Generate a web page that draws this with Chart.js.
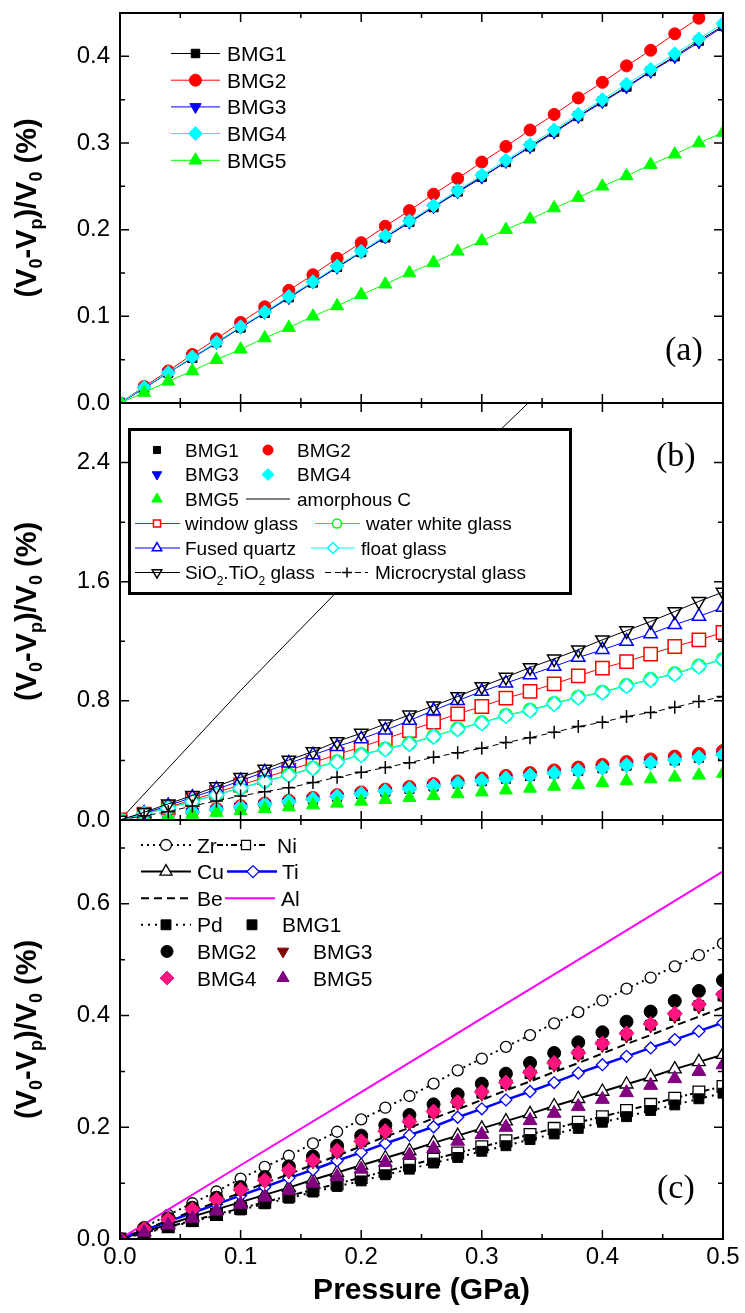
<!DOCTYPE html>
<html><head><meta charset="utf-8">
<script src="https://cdn.jsdelivr.net/npm/chart.js@4/dist/chart.umd.min.js"></script>
<style>
html,body{margin:0;padding:0;background:#fff;width:745px;height:1313px;overflow:hidden}
canvas{position:absolute;left:0;top:0}
</style></head><body>
<canvas id="ca" width="745" height="1313"></canvas>
<canvas id="cb" width="745" height="1313"></canvas>
<canvas id="cc" width="745" height="1313"></canvas>
<script>
// ---------------- DATA ----------------
const pressure = [0, 0.02, 0.04, 0.06, 0.08, 0.10, 0.12, 0.14, 0.16, 0.18, 0.20, 0.22, 0.24, 0.26, 0.28, 0.30, 0.32, 0.34, 0.36, 0.38, 0.40, 0.42, 0.44, 0.46, 0.48, 0.50];
const linePressure = [0, 0.1, 0.2, 0.3, 0.4, 0.5];

const bmg1 = [0, 0.017, 0.035, 0.052, 0.070, 0.087, 0.104, 0.122, 0.139, 0.157, 0.174, 0.191, 0.209, 0.226, 0.244, 0.261, 0.278, 0.296, 0.313, 0.331, 0.348, 0.365, 0.383, 0.400, 0.418, 0.435];
const bmg2 = [0, 0.019, 0.037, 0.056, 0.074, 0.093, 0.111, 0.130, 0.148, 0.167, 0.185, 0.204, 0.222, 0.241, 0.259, 0.278, 0.296, 0.315, 0.333, 0.352, 0.370, 0.389, 0.407, 0.426, 0.444, 0.463];
const bmg3 = [0, 0.017, 0.035, 0.052, 0.069, 0.087, 0.104, 0.121, 0.139, 0.156, 0.174, 0.191, 0.208, 0.226, 0.243, 0.260, 0.278, 0.295, 0.312, 0.330, 0.347, 0.364, 0.382, 0.399, 0.416, 0.434];
const bmg4 = [0, 0.018, 0.035, 0.053, 0.070, 0.088, 0.105, 0.123, 0.140, 0.158, 0.175, 0.193, 0.210, 0.228, 0.245, 0.263, 0.280, 0.298, 0.315, 0.333, 0.350, 0.368, 0.385, 0.403, 0.420, 0.438];
const bmg5 = [0, 0.012, 0.025, 0.037, 0.050, 0.062, 0.075, 0.087, 0.100, 0.112, 0.125, 0.137, 0.150, 0.162, 0.175, 0.187, 0.200, 0.212, 0.225, 0.237, 0.250, 0.262, 0.275, 0.287, 0.300, 0.312];

const amorphousC = [0, 0.87, 1.70, 2.50, 3.28, 4.05];
const windowGlass = [0, 0.040, 0.085, 0.135, 0.185, 0.235, 0.285, 0.335, 0.385, 0.440, 0.490, 0.545, 0.600, 0.657, 0.713, 0.762, 0.818, 0.863, 0.914, 0.968, 1.020, 1.064, 1.114, 1.165, 1.210, 1.259];
const waterWhiteGlass = [0, 0.041, 0.081, 0.125, 0.170, 0.216, 0.261, 0.304, 0.350, 0.392, 0.440, 0.479, 0.515, 0.563, 0.613, 0.654, 0.704, 0.739, 0.784, 0.826, 0.860, 0.904, 0.945, 0.983, 1.035, 1.080];
const fusedQuartz = [0, 0.045, 0.096, 0.152, 0.206, 0.264, 0.322, 0.381, 0.437, 0.493, 0.545, 0.603, 0.668, 0.735, 0.802, 0.863, 0.919, 0.975, 1.031, 1.091, 1.143, 1.199, 1.250, 1.311, 1.367, 1.427];
const floatGlass = [0, 0.040, 0.079, 0.123, 0.168, 0.213, 0.258, 0.300, 0.347, 0.388, 0.437, 0.475, 0.511, 0.560, 0.610, 0.650, 0.700, 0.735, 0.780, 0.822, 0.856, 0.900, 0.941, 0.979, 1.031, 1.076];
const sio2tio2Glass = [0, 0.052, 0.108, 0.165, 0.224, 0.287, 0.341, 0.403, 0.459, 0.527, 0.583, 0.645, 0.706, 0.766, 0.829, 0.896, 0.959, 1.024, 1.082, 1.143, 1.210, 1.271, 1.333, 1.400, 1.468, 1.530];
const microcrystalGlass = [0, 0.028, 0.056, 0.094, 0.128, 0.161, 0.190, 0.217, 0.251, 0.287, 0.320, 0.352, 0.385, 0.421, 0.452, 0.482, 0.520, 0.553, 0.589, 0.627, 0.657, 0.695, 0.722, 0.757, 0.795, 0.829];

const zr = [0, 0.021, 0.043, 0.064, 0.085, 0.108, 0.129, 0.149, 0.171, 0.192, 0.214, 0.235, 0.256, 0.278, 0.302, 0.323, 0.344, 0.365, 0.386, 0.406, 0.427, 0.448, 0.468, 0.488, 0.508, 0.529];
const ni = [0, 0.011, 0.022, 0.033, 0.044, 0.055, 0.066, 0.077, 0.088, 0.099, 0.110, 0.121, 0.132, 0.143, 0.154, 0.165, 0.176, 0.187, 0.198, 0.209, 0.219, 0.230, 0.241, 0.252, 0.263, 0.273];
const cu = [0, 0.013, 0.026, 0.040, 0.053, 0.066, 0.079, 0.092, 0.106, 0.119, 0.132, 0.145, 0.158, 0.172, 0.185, 0.198, 0.211, 0.224, 0.238, 0.251, 0.264, 0.277, 0.290, 0.304, 0.317, 0.330];
const ti = [0, 0.016, 0.031, 0.047, 0.062, 0.078, 0.093, 0.109, 0.124, 0.140, 0.155, 0.171, 0.186, 0.201, 0.218, 0.233, 0.249, 0.264, 0.280, 0.297, 0.312, 0.327, 0.342, 0.357, 0.372, 0.387];
const be = [0, 0.017, 0.033, 0.050, 0.066, 0.083, 0.100, 0.116, 0.133, 0.149, 0.166, 0.183, 0.199, 0.216, 0.232, 0.249, 0.266, 0.282, 0.299, 0.315, 0.332, 0.349, 0.365, 0.382, 0.398, 0.415];
const al = [0, 0.132, 0.263, 0.395, 0.526, 0.658];
const pd = [0, 0.010, 0.021, 0.031, 0.042, 0.052, 0.063, 0.073, 0.084, 0.094, 0.104, 0.115, 0.125, 0.136, 0.146, 0.157, 0.167, 0.178, 0.188, 0.198, 0.209, 0.219, 0.230, 0.240, 0.251, 0.261];

const xTicks = [0, 0.1, 0.2, 0.3, 0.4, 0.5];
const yTicksA = [0, 0.1, 0.2, 0.3, 0.4];
const yTicksB = [0, 0.8, 1.6, 2.4];
const yTicksC = [0, 0.2, 0.4, 0.6];

// ---------------- HELPERS ----------------
const SANS = "'Liberation Sans', Arial, sans-serif";
const SERIF = "'Liberation Serif', 'Times New Roman', serif";
const pts = (xs, ys) => xs.map((x, i) => ({x: x, y: ys[i]}));

function drawMarker(ctx, style, x, y, r, rot, fill, stroke, lw) {
  if (!style || r <= 0) return;
  ctx.save();
  ctx.beginPath();
  let rad = (rot || 0) * Math.PI / 180;
  if (style === 'circle') {
    ctx.arc(x, y, r, 0, Math.PI * 2);
  } else if (style === 'rect') {
    const s = Math.SQRT1_2 * r;
    ctx.rect(x - s, y - s, 2 * s, 2 * s);
  } else if (style === 'rectRot') {
    ctx.moveTo(x, y - r); ctx.lineTo(x + r, y); ctx.lineTo(x, y + r); ctx.lineTo(x - r, y); ctx.closePath();
  } else if (style === 'triangle') {
    for (let k = 0; k < 3; k++) {
      const px = x + Math.sin(rad) * r, py = y - Math.cos(rad) * r;
      if (k === 0) ctx.moveTo(px, py); else ctx.lineTo(px, py);
      rad += 2 * Math.PI / 3;
    }
    ctx.closePath();
  } else if (style === 'cross') {
    ctx.moveTo(x, y - r); ctx.lineTo(x, y + r); ctx.moveTo(x - r, y); ctx.lineTo(x + r, y);
  }
  if (style !== 'cross' && fill && fill !== 'transparent') { ctx.fillStyle = fill; ctx.fill(); }
  ctx.lineWidth = lw; ctx.strokeStyle = stroke; ctx.stroke();
  ctx.restore();
}

function drawRich(ctx, parts, x, y, size, subSize, weight, family, subDy) {
  let cx = x;
  for (const p of parts) {
    ctx.font = weight + ' ' + (p.sub ? subSize : size) + 'px ' + family;
    ctx.fillText(p.t, cx, y + (p.sub ? subDy : 0));
    cx += ctx.measureText(p.t).width;
  }
  return cx - x;
}
function richWidth(ctx, parts, size, subSize, weight, family) {
  let w = 0;
  for (const p of parts) {
    ctx.font = weight + ' ' + (p.sub ? subSize : size) + 'px ' + family;
    w += ctx.measureText(p.t).width;
  }
  return w;
}

const yTitleParts = [{t: '(V'}, {t: '0', sub: true}, {t: '-V'}, {t: 'p', sub: true}, {t: ')/V'}, {t: '0', sub: true}, {t: ' (%)'}];

// frame, inward ticks on all sides, y title, panel tag
const framePlugin = {
  id: 'frame',
  afterDatasetsDraw(chart, args, o) {
    const {ctx, chartArea: {left, right, top, bottom}, scales: {x, y}} = chart;
    ctx.save();
    ctx.strokeStyle = '#000';
    ctx.lineWidth = 1.5;
    ctx.beginPath();
    const nx = Math.round((x.max - x.min) / o.xMinor);
    for (let i = 0; i <= nx; i++) {
      const px = x.getPixelForValue(x.min + i * o.xMinor);
      const len = (i % 2 === 0) ? 9 : 5;
      ctx.moveTo(px, bottom); ctx.lineTo(px, bottom - len);
      ctx.moveTo(px, top); ctx.lineTo(px, top + len);
    }
    const ny = Math.floor((y.max - y.min) / o.yMinor + 1e-6);
    for (let i = 0; i <= ny; i++) {
      const py = y.getPixelForValue(y.min + i * o.yMinor);
      const len = (i % 2 === 0) ? 9 : 5;
      ctx.moveTo(left, py); ctx.lineTo(left + len, py);
      ctx.moveTo(right, py); ctx.lineTo(right - len, py);
    }
    ctx.stroke();
    ctx.lineWidth = 2;
    ctx.strokeRect(left, top, right - left, bottom - top);
    // y title
    ctx.fillStyle = '#000';
    ctx.textBaseline = 'alphabetic';
    ctx.textAlign = 'left';
    const w = richWidth(ctx, yTitleParts, 29, 18, 'bold', SANS);
    ctx.translate(36, (top + bottom) / 2);
    ctx.rotate(-Math.PI / 2);
    drawRich(ctx, yTitleParts, -w / 2, 0, 29, 18, 'bold', SANS, 6);
    ctx.restore();
    // panel tag
    ctx.save();
    ctx.fillStyle = '#000';
    ctx.font = '34px ' + SERIF;
    ctx.textBaseline = 'alphabetic';
    ctx.fillText(o.tag, o.tagX, o.tagY);
    ctx.restore();
  }
};

const legendPlugin = {
  id: 'panelLegend',
  afterDatasetsDraw(chart, args, o) {
    const ctx = chart.ctx;
    ctx.save();
    if (o.box) {
      ctx.fillStyle = '#fff';
      ctx.fillRect(o.box[0], o.box[1], o.box[2] - o.box[0], o.box[3] - o.box[1]);
      ctx.lineWidth = 3; ctx.strokeStyle = '#000';
      ctx.strokeRect(o.box[0] + 1.5, o.box[1] + 1.5, o.box[2] - o.box[0] - 3, o.box[3] - o.box[1] - 3);
    }
    for (const it of o.items) {
      const ds = chart.data.datasets[it.ds];
      if (it.line) {
        ctx.save();
        ctx.beginPath();
        ctx.strokeStyle = ds.borderColor;
        ctx.lineWidth = ds.borderWidth;
        ctx.setLineDash(ds.borderDash || []);
        ctx.moveTo(it.line[0], it.y); ctx.lineTo(it.line[1], it.y);
        ctx.stroke();
        ctx.restore();
      }
      if (it.mx !== undefined) {
        drawMarker(ctx, ds.pointStyle, it.mx, it.y, it.r, ds.pointRotation, ds.pointBackgroundColor, ds.pointBorderColor, ds.pointBorderWidth);
      }
      ctx.fillStyle = '#000';
      ctx.textBaseline = 'alphabetic';
      ctx.textAlign = 'left';
      const base = it.y + o.size * 0.36;
      if (ds.richLabel) {
        drawRich(ctx, ds.richLabel, it.tx, base, o.size, Math.round(o.size * 0.65), 'normal', SANS, 6);
      } else {
        ctx.font = o.size + 'px ' + SANS;
        ctx.fillText(ds.label, it.tx, base);
      }
    }
    ctx.restore();
  }
};

function ds(label, xs, ys, st) {
  return Object.assign({
    label: label, data: pts(xs, ys), showLine: true,
    borderColor: '#000', borderWidth: 1, borderDash: [],
    pointStyle: 'circle', pointRadius: 5, pointRotation: 0,
    pointBackgroundColor: '#000', pointBorderColor: '#000', pointBorderWidth: 1,
    fill: false, tension: 0
  }, st);
}
function withOrder(list) { list.forEach((d, i) => { d.order = -i; }); return list; }

function zeroPad(s) { s.paddingTop = 0; s.paddingBottom = 0; s.paddingLeft = 0; s.paddingRight = 0; }

function makeChart(id, datasets, cfg) {
  return new Chart(document.getElementById(id), {
    type: 'scatter',
    data: {datasets: withOrder(datasets)},
    plugins: [framePlugin, legendPlugin],
    options: {
      responsive: false, animation: false, devicePixelRatio: 1, events: [],
      layout: {padding: {top: cfg.top, bottom: cfg.bottom, left: 0, right: 22}},
      plugins: {
        legend: {display: false}, tooltip: {enabled: false},
        frame: cfg.frame, panelLegend: cfg.legend
      },
      scales: {
        x: {
          type: 'linear', min: 0, max: 0.5, display: cfg.showX,
          grid: {display: false, drawTicks: false}, border: {display: false},
          afterBuildTicks: s => { s.ticks = xTicks.map(v => ({value: v})); },
          ticks: {font: {family: SANS, size: 24}, color: '#000', padding: 4, maxRotation: 0, autoSkip: false, callback: v => v.toFixed(1)},
          title: {display: cfg.showX, text: 'Pressure (GPa)', font: {family: SANS, size: 30, weight: 'bold'}, color: '#000', padding: {top: 0, bottom: 4}},
          afterFit: s => { if (cfg.showX) s.height = 74; zeroPad(s); }
        },
        y: {
          type: 'linear', min: 0, max: cfg.ymax,
          grid: {display: false, drawTicks: false}, border: {display: false},
          afterBuildTicks: s => { s.ticks = cfg.yTicks.map(v => ({value: v})); },
          ticks: {font: {family: SANS, size: 24}, color: '#000', padding: 10, autoSkip: false, callback: v => v.toFixed(1)},
          afterFit: s => { s.width = 120; zeroPad(s); }
        }
      }
    }
  });
}

// ---------------- PANEL (a) ----------------
const dsA = [
  ds('BMG1', pressure, bmg1, {borderColor: '#000', pointStyle: 'rect', pointRadius: 6.5, pointBackgroundColor: '#000', pointBorderColor: '#000'}),
  ds('BMG2', pressure, bmg2, {borderColor: '#ff0000', pointStyle: 'circle', pointRadius: 6, pointBackgroundColor: '#ff0000', pointBorderColor: '#ff0000'}),
  ds('BMG3', pressure, bmg3, {borderColor: '#0000ff', pointStyle: 'triangle', pointRotation: 180, pointRadius: 6.5, pointBackgroundColor: '#0000ff', pointBorderColor: '#0000ff'}),
  ds('BMG4', pressure, bmg4, {borderColor: '#00ffff', pointStyle: 'rectRot', pointRadius: 7, pointBackgroundColor: '#00ffff', pointBorderColor: '#00ffff'}),
  ds('BMG5', pressure, bmg5, {borderColor: '#00ff00', pointStyle: 'triangle', pointRadius: 7.5, pointBackgroundColor: '#00ff00', pointBorderColor: '#00ff00'})
];
makeChart('ca', dsA, {
  top: 13, bottom: 1313 - 403, ymax: 0.45, yTicks: yTicksA, showX: false,
  frame: {xMinor: 0.05, yMinor: 0.05, tag: '(a)', tagX: 665, tagY: 360},
  legend: {size: 21, items: [0, 1, 2, 3, 4].map(i => ({ds: i, y: 53.5 + i * 26.7, line: [171, 220], mx: 195.5, tx: 227, r: [6, 6, 6.5, 7, 7.5][i]}))}
});

// ---------------- PANEL (b) ----------------
const dsB = [
  ds('BMG1', pressure, bmg1, {showLine: false, pointStyle: 'rect', pointRadius: 6.5}),
  ds('BMG2', pressure, bmg2, {showLine: false, borderColor: '#ff0000', pointStyle: 'circle', pointRadius: 6.5, pointBackgroundColor: '#ff0000', pointBorderColor: '#ff0000'}),
  ds('BMG3', pressure, bmg3, {showLine: false, borderColor: '#0000ff', pointStyle: 'triangle', pointRotation: 180, pointRadius: 7, pointBackgroundColor: '#0000ff', pointBorderColor: '#0000ff'}),
  ds('BMG4', pressure, bmg4, {showLine: false, borderColor: '#00ffff', pointStyle: 'rectRot', pointRadius: 7.5, pointBackgroundColor: '#00ffff', pointBorderColor: '#00ffff'}),
  ds('BMG5', pressure, bmg5, {showLine: false, borderColor: '#00ff00', pointStyle: 'triangle', pointRadius: 7.5, pointBackgroundColor: '#00ff00', pointBorderColor: '#00ff00'}),
  ds('amorphous C', linePressure, amorphousC, {borderColor: '#000', borderWidth: 1, pointRadius: 0, pointStyle: false}),
  ds('window glass', pressure, windowGlass, {borderColor: '#ff0000', pointStyle: 'rect', pointRadius: 9.4, pointBackgroundColor: '#fff', pointBorderColor: '#ff0000', pointBorderWidth: 1.5}),
  ds('water white glass', pressure, waterWhiteGlass, {borderColor: '#00ff00', pointStyle: 'circle', pointRadius: 6.5, pointBackgroundColor: '#fff', pointBorderColor: '#00ff00', pointBorderWidth: 1.5}),
  ds('Fused quartz', pressure, fusedQuartz, {borderColor: '#0000ff', pointStyle: 'triangle', pointRadius: 7.7, pointBackgroundColor: '#fff', pointBorderColor: '#0000ff', pointBorderWidth: 1.5}),
  ds('float glass', pressure, floatGlass, {borderColor: '#00ffff', pointStyle: 'rectRot', pointRadius: 7.5, pointBackgroundColor: '#fff', pointBorderColor: '#00ffff', pointBorderWidth: 1.5}),
  ds('SiO2.TiO2 glass', pressure, sio2tio2Glass, {borderColor: '#000', pointStyle: 'triangle', pointRotation: 180, pointRadius: 7.7, pointBackgroundColor: 'transparent', pointBorderColor: '#000', pointBorderWidth: 1.5,
    richLabel: [{t: 'SiO'}, {t: '2', sub: true}, {t: '.TiO'}, {t: '2', sub: true}, {t: ' glass'}]}),
  ds('Microcrystal glass', pressure, microcrystalGlass, {borderColor: '#000', borderDash: [6, 4], pointStyle: 'cross', pointRadius: 6.5, pointBackgroundColor: '#000', pointBorderColor: '#000', pointBorderWidth: 1.5})
];
const rowB = [450, 474.5, 499, 523.5, 548, 572.5];
makeChart('cb', dsB, {
  top: 403, bottom: 1313 - 820, ymax: 2.8, yTicks: yTicksB, showX: false,
  frame: {xMinor: 0.05, yMinor: 0.4, tag: '(b)', tagX: 656, tagY: 466},
  legend: {size: 19, box: [128, 428, 572, 595], items: [
    {ds: 0, y: rowB[0], mx: 157, tx: 185, r: 5},
    {ds: 1, y: rowB[0], mx: 268, tx: 297, r: 5},
    {ds: 2, y: rowB[1], mx: 157, tx: 185, r: 5.5},
    {ds: 3, y: rowB[1], mx: 268, tx: 297, r: 6},
    {ds: 4, y: rowB[2], mx: 157, tx: 185, r: 6},
    {ds: 5, y: rowB[2], line: [246, 290], tx: 297},
    {ds: 6, y: rowB[3], line: [135, 180], mx: 157, tx: 185, r: 5},
    {ds: 7, y: rowB[3], line: [315, 360], mx: 337, tx: 366, r: 4.5},
    {ds: 8, y: rowB[4], line: [135, 180], mx: 157, tx: 185, r: 5.5},
    {ds: 9, y: rowB[4], line: [311, 355], mx: 333, tx: 361, r: 5.5},
    {ds: 10, y: rowB[5], line: [135, 180], mx: 157, tx: 185, r: 5.5},
    {ds: 11, y: rowB[5], line: [325, 368], mx: 347, tx: 375, r: 5}
  ]}
});

// ---------------- PANEL (c) ----------------
const dsC = [
  ds('Zr', pressure, zr, {borderColor: '#000', borderWidth: 2, borderDash: [2, 4], pointStyle: 'circle', pointRadius: 5.5, pointBackgroundColor: '#fff', pointBorderColor: '#000', pointBorderWidth: 1.3}),
  ds('Ni', pressure, ni, {borderColor: '#000', borderWidth: 2, borderDash: [6, 3, 2, 3], pointStyle: 'rect', pointRadius: 8.3, pointBackgroundColor: '#fff', pointBorderColor: '#000', pointBorderWidth: 1.3}),
  ds('Cu', pressure, cu, {borderColor: '#000', borderWidth: 2, pointStyle: 'triangle', pointRadius: 7.5, pointBackgroundColor: '#fff', pointBorderColor: '#000', pointBorderWidth: 1.3}),
  ds('Ti', pressure, ti, {borderColor: '#0000ff', borderWidth: 2.5, pointStyle: 'rectRot', pointRadius: 6, pointBackgroundColor: '#fff', pointBorderColor: '#0000ff', pointBorderWidth: 1.3}),
  ds('Be', pressure, be, {borderColor: '#000', borderWidth: 2, borderDash: [8, 5], pointRadius: 0, pointStyle: false}),
  ds('Al', linePressure, al, {borderColor: '#ff00ff', borderWidth: 2, pointRadius: 0, pointStyle: false}),
  ds('Pd', pressure, pd, {borderColor: '#000', borderWidth: 2, borderDash: [2, 5], pointStyle: 'rect', pointRadius: 7, pointBackgroundColor: '#000', pointBorderColor: '#000'}),
  ds('BMG1', pressure, bmg1, {showLine: false, pointStyle: 'rect', pointRadius: 7, pointBackgroundColor: '#000', pointBorderColor: '#000'}),
  ds('BMG2', pressure, bmg2, {showLine: false, pointStyle: 'circle', pointRadius: 6.5, pointBackgroundColor: '#000', pointBorderColor: '#000'}),
  ds('BMG3', pressure, bmg3, {showLine: false, borderColor: '#800000', pointStyle: 'triangle', pointRotation: 180, pointRadius: 7.5, pointBackgroundColor: '#800000', pointBorderColor: '#800000'}),
  ds('BMG4', pressure, bmg4, {showLine: false, borderColor: '#ff1480', pointStyle: 'rectRot', pointRadius: 7.5, pointBackgroundColor: '#ff1480', pointBorderColor: '#ff1480'}),
  ds('BMG5', pressure, bmg5, {showLine: false, borderColor: '#800080', pointStyle: 'triangle', pointRadius: 8, pointBackgroundColor: '#800080', pointBorderColor: '#800080'})
];
const rowC = [845, 871.6, 898.2, 924.8, 951.4, 978];
makeChart('cc', dsC, {
  top: 820, bottom: 0, ymax: 0.75, yTicks: yTicksC, showX: true,
  frame: {xMinor: 0.05, yMinor: 0.1, tag: '(c)', tagX: 657, tagY: 1198},
  legend: {size: 21, items: [
    {ds: 0, y: rowC[0], line: [141, 191], mx: 166, tx: 197, r: 5.5},
    {ds: 1, y: rowC[0], line: [217, 267], mx: 246, tx: 277, r: 6.4},
    {ds: 2, y: rowC[1], line: [141, 191], mx: 166, tx: 197, r: 7},
    {ds: 3, y: rowC[1], line: [227, 277], mx: 253, tx: 282, r: 6},
    {ds: 4, y: rowC[2], line: [141, 191], tx: 197},
    {ds: 5, y: rowC[2], line: [225, 275], tx: 281},
    {ds: 6, y: rowC[3], line: [141, 191], mx: 166, tx: 197, r: 7},
    {ds: 7, y: rowC[3], mx: 252, tx: 282, r: 7},
    {ds: 8, y: rowC[4], mx: 167, tx: 197, r: 6},
    {ds: 9, y: rowC[4], mx: 283, tx: 313, r: 6.5},
    {ds: 10, y: rowC[5], mx: 167, tx: 197, r: 7},
    {ds: 11, y: rowC[5], mx: 283, tx: 313, r: 7}
  ]}
});
</script>
</body></html>
